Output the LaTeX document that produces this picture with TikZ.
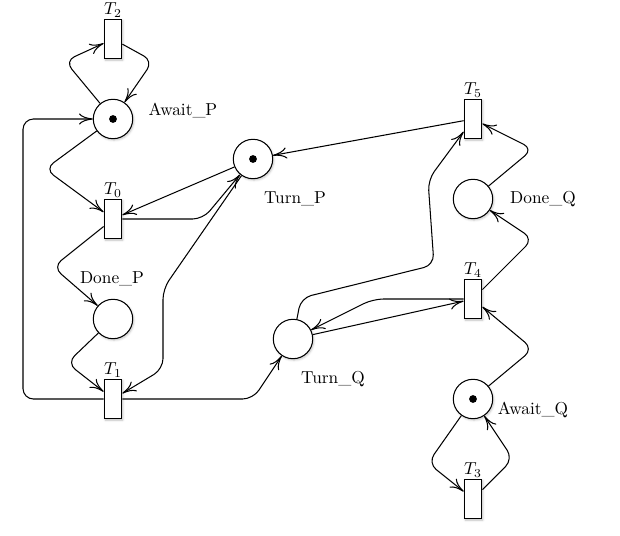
\documentclass[tikz,border=0pt]{standalone}
\usetikzlibrary{arrows.meta, shadows.blur}

\begin{document}
\begin{tikzpicture}[
  x=0.406cm, y=0.406cm,
  line width=0.6pt,
  shdw/.style={
    blur shadow={shadow xshift=0.6pt, shadow yshift=-0.8pt,
                 shadow blur radius=1.2pt, shadow opacity=25},
  },
  place/.style={circle, draw, fill=white, minimum size=8mm, inner sep=0pt, shdw},
  trans/.style={rectangle, draw, fill=white, minimum width=3.6mm,
                minimum height=8mm, inner sep=0pt, shdw},
  token/.style={circle, fill=black, minimum size=4.5pt, inner sep=0pt},
  tlbl/.style={inner sep=0.5pt},
  lbl/.style={inner sep=0pt},
  flow/.style={-{Computer Modern Rightarrow[length=8pt, width=6.5pt]},
               rounded corners=6pt},
]

\useasboundingbox (-0.65,0.95) rectangle (30.35,-25.8);

% ── places ───────────────────────────────────────────────
\node[place] (AwaitP) at (5,-5)   {};
\node[place] (TurnP)  at (12,-7)  {};
\node[place] (DoneP)  at (5,-15)  {};
\node[place] (TurnQ)  at (14,-16) {};
\node[place] (DoneQ)  at (23,-9)  {};
\node[place] (AwaitQ) at (23,-19) {};

% tokens
\node[token] (tkAwaitP) at (AwaitP) {};
\node[token] (tkTurnP)  at (TurnP)  {};
\node[token] (tkAwaitQ) at (AwaitQ) {};

% ── transitions ──────────────────────────────────────────
\foreach \t/\x/\y in {2/5/-1, 0/5/-10, 1/5/-19, 5/23/-5, 4/23/-14, 3/23/-24}
  \node[trans, label={[tlbl]above:$T_{\t}$}] (T\t) at (\x,\y) {};

% ── place labels ─────────────────────────────────────────
\node[lbl] (lAwaitP) at (8.5,-4.55)  {Await\_P};
\node[lbl] (lTurnP)  at (14.1,-9)    {Turn\_P};
\node[lbl] (lDoneP)  at (4.95,-13)   {Done\_P};
\node[lbl] (lDoneQ)  at (26.5,-9)    {Done\_Q};
\node[lbl] (lTurnQ)  at (16,-18)     {Turn\_Q};
\node[lbl] (lAwaitQ) at (26,-19.55)  {Await\_Q};

% ── process P ────────────────────────────────────────────
\draw[flow] (AwaitP) -- (2.6,-2.1) -- (T2);
\draw[flow] (T2) -- (7,-2.1) -- (AwaitP);
\draw[flow] (AwaitP) -- (1.6,-7.5) -- (T0);
\draw[flow] (TurnP) -- (T0);
\draw[flow] (T0) -- (9.5,-10) -- (TurnP);
\draw[flow] (T0) -- (2,-12.4) -- (DoneP);
\draw[flow] (DoneP) -- (2.7,-17.2) -- (T1);
\draw[flow] (TurnP) -- (7.5,-13.5) -- (7.5,-17.5) -- (T1);
\draw[flow] (T1) -- (0.5,-19) -- (0.5,-5) -- (AwaitP);
\draw[flow] (T1) -- (12,-19) -- (TurnQ);

% ── process Q ────────────────────────────────────────────
\draw[flow] (T5) -- (TurnP);
\draw[flow] (TurnQ) -- (T4);
\draw[flow] (T4) -- (18,-14) -- (TurnQ);
\draw[flow] (TurnQ) -- (14.4,-13.95) -- (21.05,-12.3) -- (20.75,-8.05) -- (T5);
\draw[flow] (DoneQ) -- (26,-6.5) -- (T5);
\draw[flow] (T4) -- (26,-11) -- (DoneQ);
\draw[flow] (AwaitQ) -- (26,-16.5) -- (T4);
\draw[flow] (AwaitQ) -- (20.75,-22.2) -- (T3);
\draw[flow] (T3) -- (25,-22) -- (AwaitQ);

\end{tikzpicture}
\end{document}
